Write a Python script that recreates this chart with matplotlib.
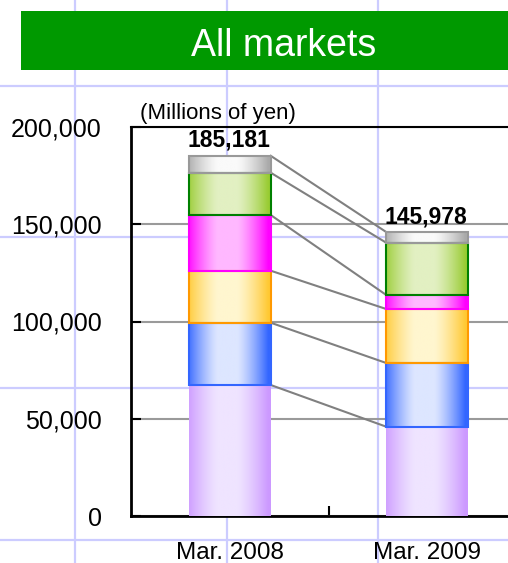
import matplotlib
matplotlib.use("Agg")
import matplotlib.pyplot as plt
import numpy as np
from matplotlib import font_manager
from matplotlib.colors import to_rgb
from matplotlib.lines import Line2D
from matplotlib.patches import Rectangle
from matplotlib.ticker import FuncFormatter

categories = ["Mar. 2008", "Mar. 2009"]

# market segments, stacked bottom to top (millions of yen)
seg_purple = [67350, 45910]
seg_blue = [32020, 32750]
seg_orange = [26740, 27760]
seg_magenta = [28630, 7200]
seg_green = [21750, 26880]
seg_gray = [8691, 5478]

segments = [seg_purple, seg_blue, seg_orange, seg_magenta, seg_green, seg_gray]

# (edge colour, centre colour, border colour)
styles = [
    ("#cc99ff", "#efe4ff", None),
    ("#3366ff", "#dde6ff", "#3366ff"),
    ("#ffc933", "#fff6cf", "#ff9900"),
    ("#ff00ff", "#ffb8ff", "#ff00ff"),
    ("#99cc33", "#e2f0c2", "#008000"),
    ("#aaaaaa", "#fafafa", "#999999"),
]

W, H = 508, 563


def px(x, y):
    return x / W, 1 - y / H


avail = {f.name for f in font_manager.fontManager.ttflist}
base_font = "Liberation Sans" if "Liberation Sans" in avail else "DejaVu Sans"
plt.rcParams["font.family"] = base_font

fig = plt.figure(figsize=(W / 100, H / 100), dpi=100)

# graph-paper background
for gx in [75, 227, 378]:
    fig.add_artist(Line2D([gx / W, gx / W], [0, 1], color="#ccccff", lw=1.6, zorder=-5))
for gy in [86, 237, 388, 540]:
    fig.add_artist(Line2D([0, 1], [1 - gy / H, 1 - gy / H], color="#ccccff", lw=1.6, zorder=-5))

# title banner
x0, y0 = px(21, 70)
fig.add_artist(Rectangle((x0, y0), 1 - x0 + 0.05, 59 / H, transform=fig.transFigure,
                         facecolor="#009900", edgecolor="none", zorder=5))
fig.text(284 / W, 1 - 46 / H, "All markets", color="white", fontsize=27,
         ha="center", va="center", zorder=6)

ax_l, ax_b = px(131, 516)
ax = fig.add_axes([ax_l, ax_b, 395 / W, (516 - 127) / H])
ax.set_facecolor("none")
ax.set_zorder(0)

x = np.arange(len(categories))
width = 0.415

n = 200
t = np.linspace(0, 1, n)
w = np.clip((np.abs(t - 0.47) - 0.12) / 0.38, 0, 1) ** 1.3

bottoms = np.zeros(len(categories))
tops = []
for vals, (edge_c, mid_c, line_c) in zip(segments, styles):
    vals = np.array(vals, dtype=float)
    bars = ax.bar(x, vals, width, bottom=bottoms, color="none",
                  edgecolor=line_c if line_c else "none", linewidth=1.5, zorder=4)
    e, m = np.array(to_rgb(edge_c)), np.array(to_rgb(mid_c))
    grad = (m[None, :] * (1 - w[:, None]) + e[None, :] * w[:, None])[None, :, :]
    for b in bars:
        bx, by = b.get_x(), b.get_y()
        ax.imshow(grad, extent=(bx, bx + b.get_width(), by, by + b.get_height()),
                  aspect="auto", interpolation="bilinear", zorder=3)
    bottoms = bottoms + vals
    tops.append(bottoms.copy())

# connecting lines between the stacks
for cum in tops:
    ax.plot([x[0] + width / 2, x[1] - width / 2], cum, color="#808080", lw=1.5, zorder=2)

ax.set_xlim(-0.5, 1.5)
ax.set_ylim(0, 200000)

for i, total in enumerate(bottoms):
    ax.text(x[i] - 0.005, total + 2000, f"{int(total):,}", ha="center", va="bottom",
            fontsize=16.5, fontweight="bold", zorder=6)

ax.set_yticks([0, 50000, 100000, 150000, 200000])
ax.yaxis.set_major_formatter(FuncFormatter(lambda v, p: f"{int(v):,}"))
ax.yaxis.grid(True, color="#9a9a9a", lw=1.5, zorder=1)
ax.set_axisbelow(True)
ax.tick_params(axis="y", direction="in", length=7, width=1.5, pad=21, labelsize=18)

ax.set_xticks(x)
ax.set_xticklabels(categories)
ax.set_xticks([0.5], minor=True)
ax.tick_params(axis="x", which="major", length=0, pad=19, labelsize=17.5)
ax.tick_params(axis="x", which="minor", direction="in", length=7, width=1.5)

for side, lw in [("left", 2), ("bottom", 2), ("top", 1.5), ("right", 1.5)]:
    ax.spines[side].set_linewidth(lw)

fig.text(140 / W, 1 - 119 / H, "(Millions of yen)", fontsize=16, ha="left", va="baseline")

fig.savefig("out.png", dpi=100)
